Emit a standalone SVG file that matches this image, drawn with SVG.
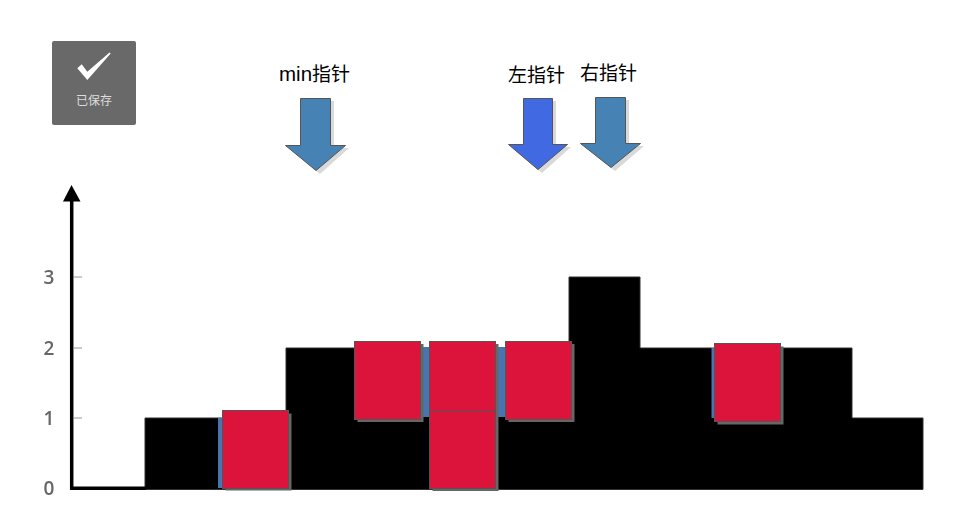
<svg xmlns="http://www.w3.org/2000/svg" width="963" height="522" viewBox="0 0 963 522">
<style>
text{font-family:"Liberation Sans","Noto Sans CJK SC",sans-serif}
.ptr{font-size:19px;fill:#000}
.tick{font-family:"Open Sans",sans-serif;font-size:19px;font-weight:600;fill:#666;text-anchor:middle}
.red{fill:#dc143c;stroke:#555;stroke-width:1}
.shadow{fill:#666}
.ashadow{fill:#d9d9d9}
.arrow{stroke:#555;stroke-width:1}
.water{fill:#4a74b0}
</style>
<defs>
<filter id="soft" x="-5%" y="-5%" width="110%" height="110%"><feGaussianBlur stdDeviation="0.7"/></filter>
</defs>
<rect width="963" height="522" fill="#fff"/>
<g id="saved">
<rect x="52" y="41" width="84" height="84" rx="2" fill="#696969"/>
<path d="M77.300 68.300 L81.700 64.300 L87.300 71.700 L109.500 52.500 L110.700 53.500 L87.300 80Z" fill="#fff"/>
<text x="94" y="105" font-size="12" fill="#ddd" text-anchor="middle">已保存</text>
</g>
<g id="chart" filter="url(#soft)">
<path d="M145 488 V418 H286 V348 H569 V277 H640 V348 H852 V418 H923 V489.500 H145Z" fill="#000" stroke="#333" stroke-width="1"/>
<g stroke="#bbb" stroke-width="1.500"><path d="M74 277 H82 M74 348 H82 M74 418 H82"/></g>
<path d="M71.700 200 V488.300 H146" fill="none" stroke="#000" stroke-width="3.500"/>
<path d="M71.500 185 L63 201.500 H80.500Z" fill="#000"/>
<text class="tick" x="49" y="284">3</text>
<text class="tick" x="49" y="355">2</text>
<text class="tick" x="49" y="425">1</text>
<text class="tick" x="49" y="495">0</text>
</g>
<g id="water">
<rect class="water" x="218" y="418" width="6" height="70"/>
<rect class="water" x="420" y="347" width="11" height="70"/>
<rect class="water" x="495" y="347" width="12" height="70"/>
<rect class="water" x="711.500" y="348" width="4" height="70"/>
</g>
<g id="bar1"><rect class="shadow" x="225.500" y="413.500" width="66" height="77"/><rect class="red" x="222.500" y="410.500" width="66" height="78"/></g>
<g id="bar2"><rect class="shadow" x="357.500" y="344" width="66" height="78"/><rect class="red" x="354.500" y="341.500" width="66" height="78"/></g>
<g id="bar3"><rect class="shadow" x="432.500" y="344" width="66" height="147"/><rect class="red" x="429.500" y="341.500" width="66" height="69"/></g>
<g id="bar4"><rect class="red" x="429.500" y="410.500" width="66" height="78"/></g>
<g id="bar5"><rect class="shadow" x="508.500" y="344" width="66" height="78"/><rect class="red" x="505.500" y="341.500" width="66" height="78"/></g>
<g id="bar6"><rect class="shadow" x="717.500" y="346.500" width="66" height="78"/><rect class="red" x="714.500" y="343.500" width="66" height="78"/></g>
<g id="ptr-min">
<text class="ptr" x="279" y="81"><tspan font-size="20.500">min</tspan>指针</text>
<path class="ashadow" d="M304 101 H334 V148 H349 L320 174 L291 150 L300 148 H304Z"/>
<path class="arrow" fill="#4682b4" d="M300.500 98.500 H330.500 V145.500 H345.500 L316 170.500 L285.500 145.500 H300.500Z"/>
</g>
<g id="ptr-left">
<text class="ptr" x="508" y="82">左指针</text>
<path class="ashadow" d="M527 101 H556 V147 H571 L542 173 L513 149 L527 147Z"/>
<path class="arrow" fill="#4169e1" d="M523.500 98.500 H552.500 V144.500 H567.500 L538 169.500 L508.500 144.500 H523.500Z"/>
</g>
<g id="ptr-right">
<text class="ptr" x="580" y="80">右指针</text>
<path class="ashadow" d="M599 100 H629 V146 H644 L615 171 L585 147 L599 146Z"/>
<path class="arrow" fill="#4682b4" d="M595.500 97.500 H625.500 V143.500 H640.500 L611 167.500 L580.500 143.500 H595.500Z"/>
</g>
</svg>
